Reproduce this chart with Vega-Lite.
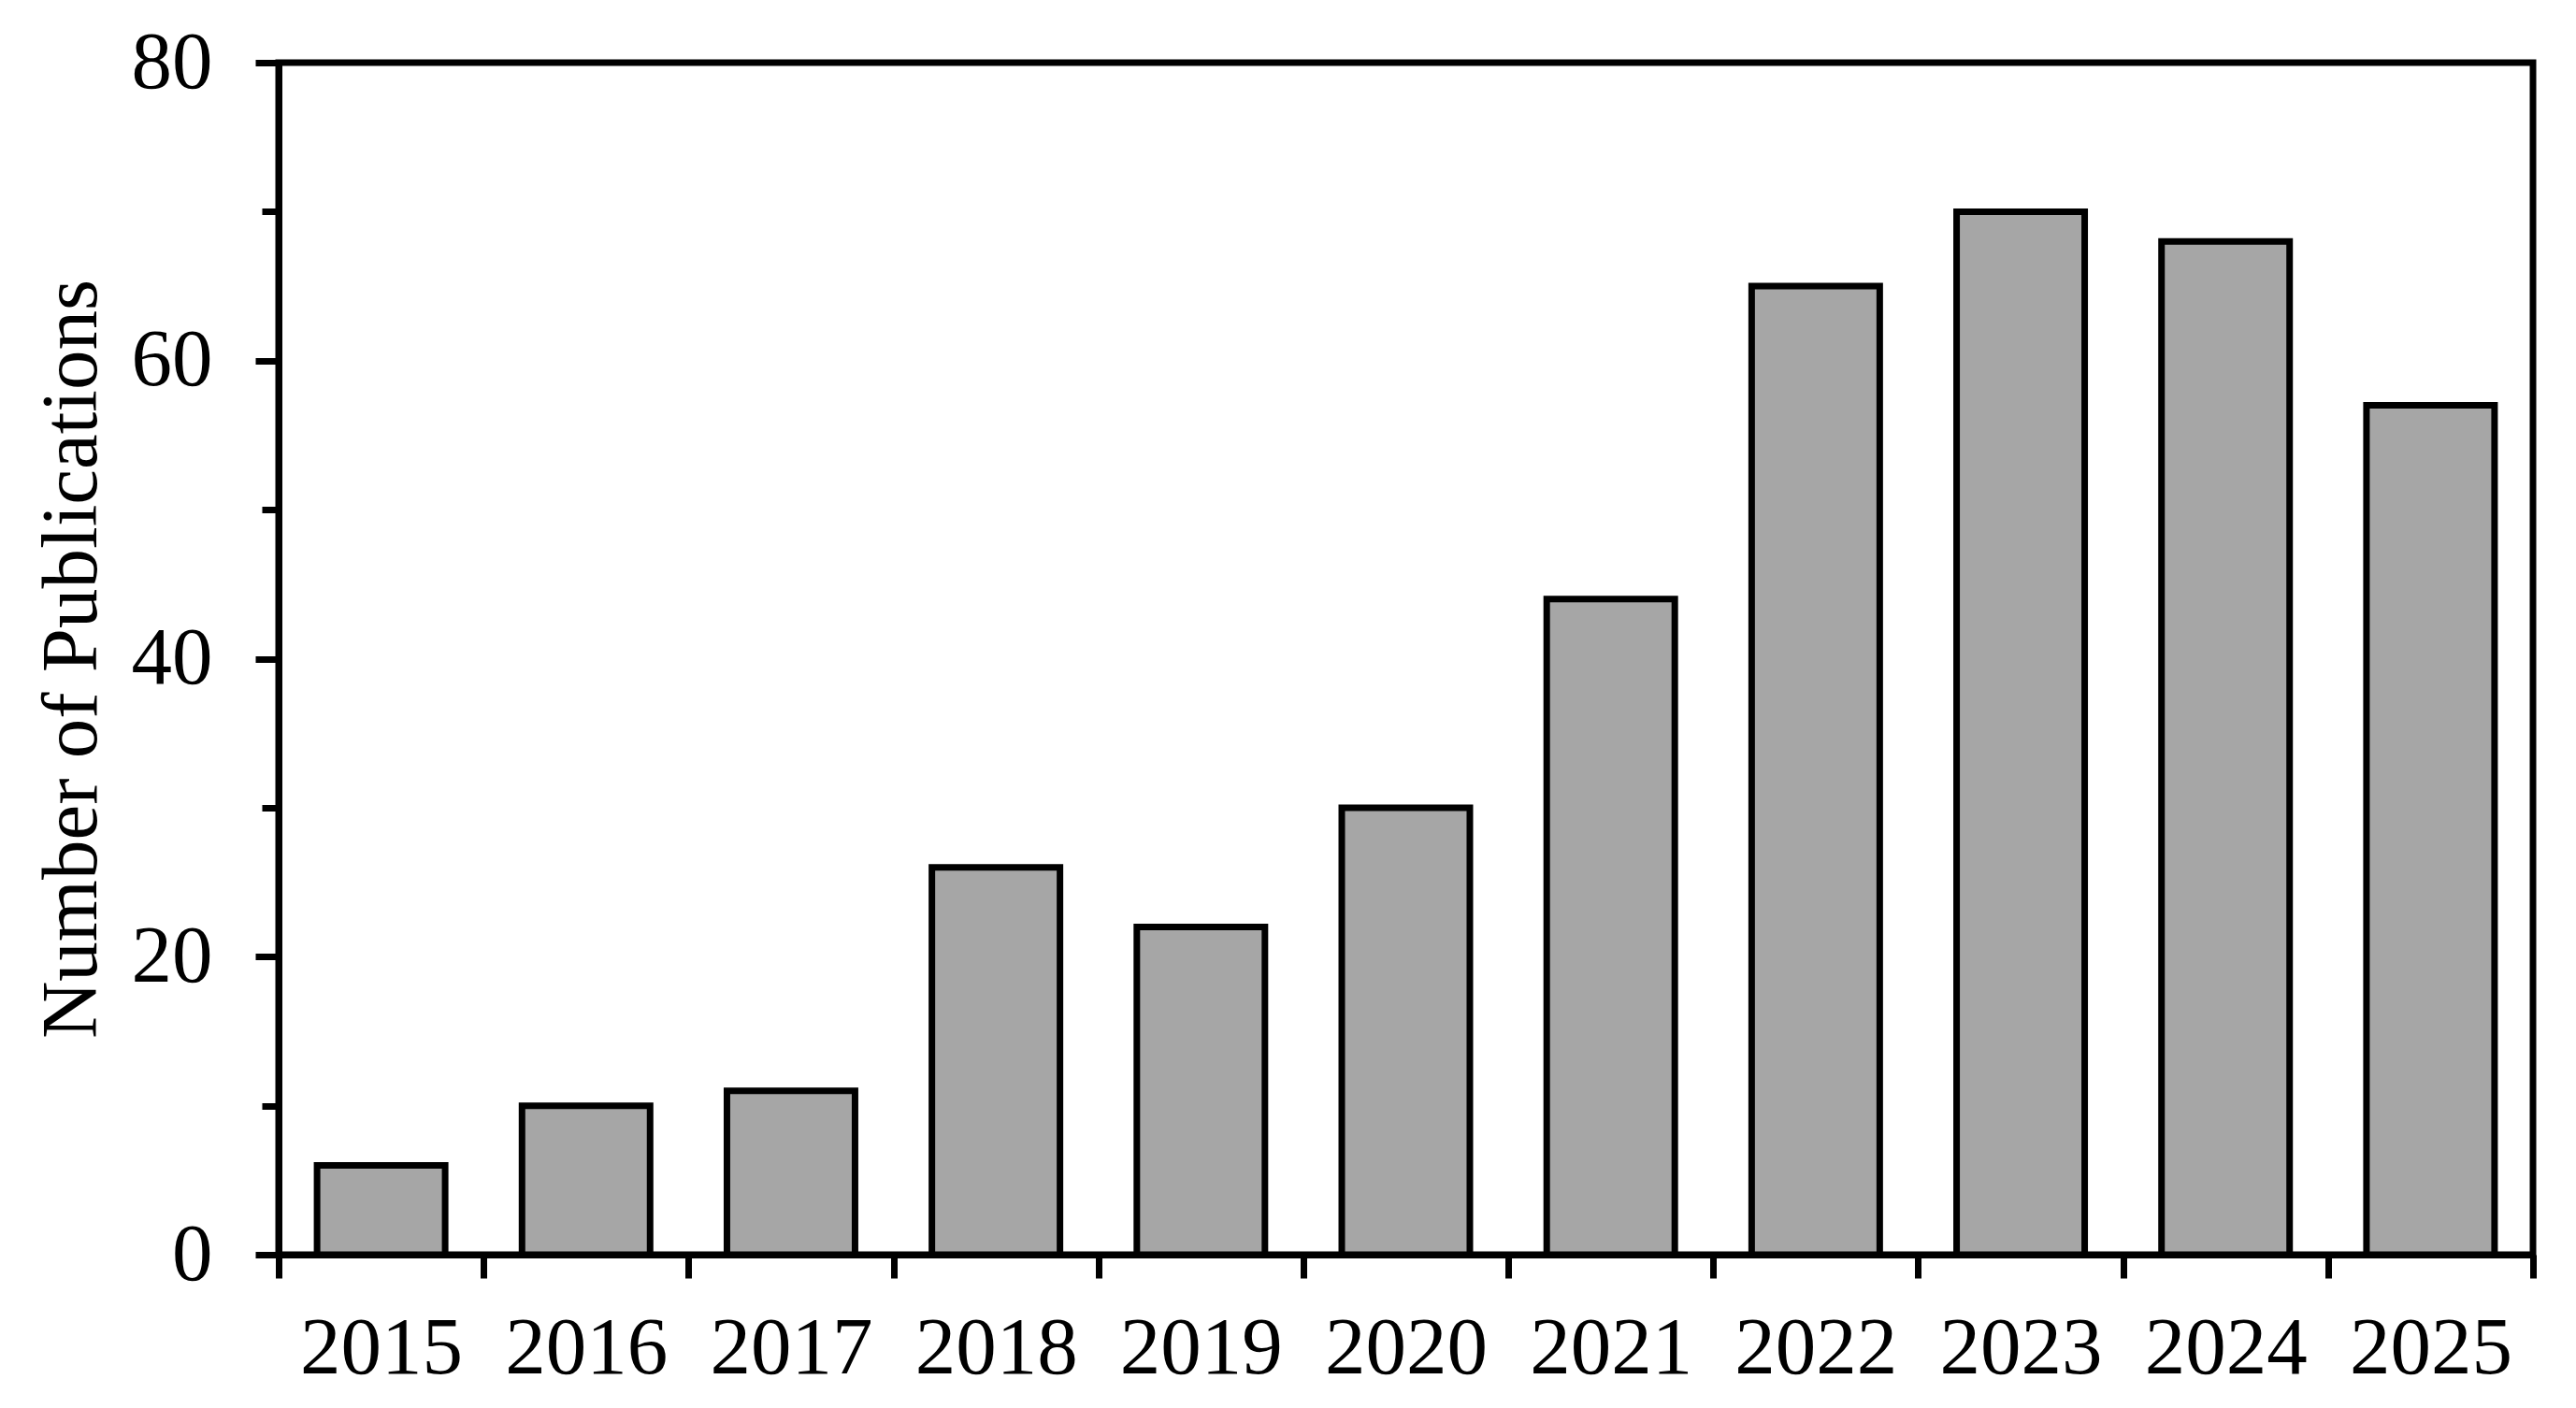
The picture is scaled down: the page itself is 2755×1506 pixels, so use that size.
{
  "$schema": "https://vega.github.io/schema/vega-lite/v6.json",
  "autosize": {"type": "none"},
  "padding": {"left": 298, "top": 67, "right": 46, "bottom": 164},
  "width": 2411,
  "height": 1275,
  "background": "white",
  "config": {
    "view": {"stroke": "black", "strokeWidth": 7},
    "font": "Liberation Serif, Times New Roman, serif"
  },
  "data": {
    "values": [
      {"year": "2015", "count": 6},
      {"year": "2016", "count": 10},
      {"year": "2017", "count": 11},
      {"year": "2018", "count": 26},
      {"year": "2019", "count": 22},
      {"year": "2020", "count": 30},
      {"year": "2021", "count": 44},
      {"year": "2022", "count": 65},
      {"year": "2023", "count": 70},
      {"year": "2024", "count": 68},
      {"year": "2025", "count": 57}
    ]
  },
  "mark": {"type": "bar", "fill": "#a6a6a6", "stroke": "black", "strokeWidth": 7, "width": {"band": 0.625}},
  "encoding": {
    "x": {
      "field": "year",
      "type": "ordinal",
      "scale": {"paddingInner": 0, "paddingOuter": 0},
      "axis": {
        "title": null,
        "labelAngle": 0,
        "labelFont": "Liberation Serif, Times New Roman, serif",
        "labelFontSize": 87,
        "labelColor": "black",
        "labelPadding": 32,
        "tickBand": "extent",
        "tickSize": 25,
        "tickWidth": 7,
        "tickColor": "black",
        "domainColor": "black",
        "domainWidth": 7,
        "grid": false
      }
    },
    "y": {
      "field": "count",
      "type": "quantitative",
      "scale": {"domain": [0, 80], "nice": false},
      "axis": {
        "title": "Number of Publications",
        "titleFont": "Liberation Serif, Times New Roman, serif",
        "titleFontSize": 85,
        "titleFontWeight": "normal",
        "titleColor": "black",
        "titleAngle": -90,
        "titleBaseline": "alphabetic",
        "titleAlign": "center",
        "titleX": -196,
        "titleY": 637.5,
        "values": [0, 10, 20, 30, 40, 50, 60, 70, 80],
        "labelExpr": "datum.value % 20 === 0 ? datum.label : ''",
        "labelFont": "Liberation Serif, Times New Roman, serif",
        "labelFontSize": 87,
        "labelColor": "black",
        "labelPadding": 46,
        "tickSize": {"condition": {"test": "datum.value % 20 === 0", "value": 25}, "value": 18},
        "tickWidth": 7,
        "tickColor": "black",
        "domainColor": "black",
        "domainWidth": 7,
        "grid": false
      }
    }
  }
}
